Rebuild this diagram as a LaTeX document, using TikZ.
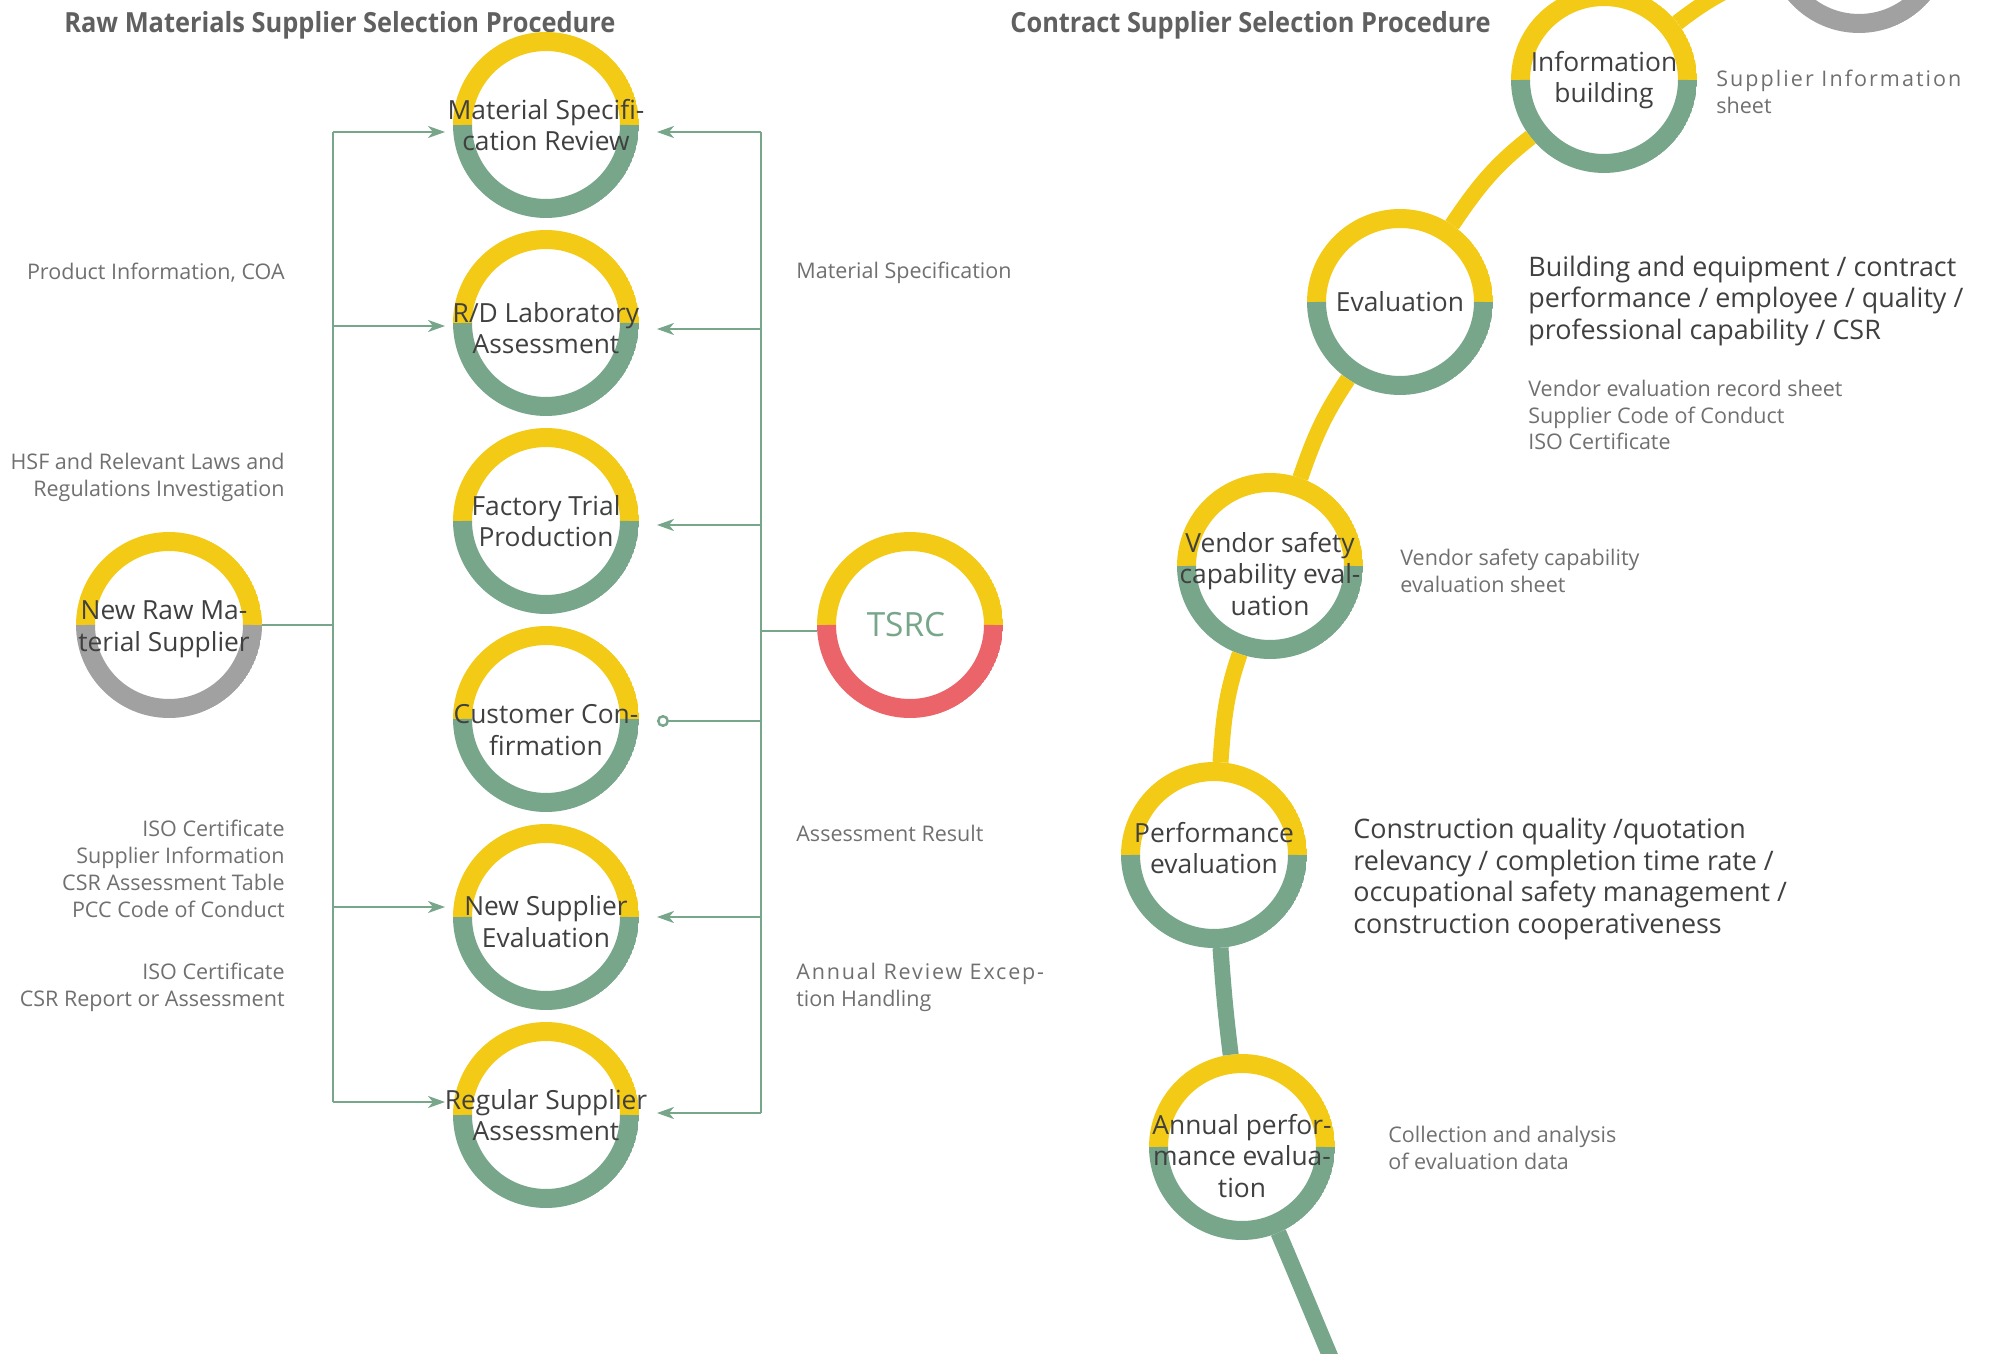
\documentclass[tikz,border=0pt]{standalone}
\usepackage{fontspec}
\setmainfont{Open Sans}
\usepackage{xcolor}
\usepackage{tikz}
\usetikzlibrary{positioning,arrows.meta}
\definecolor{ringyellow}{RGB}{243,202,21}
\definecolor{ringgreen}{RGB}{120,166,138}
\definecolor{ringgray}{RGB}{160,161,160}
\definecolor{ringred}{RGB}{235,100,106}
\definecolor{textdark}{RGB}{64,64,64}
\definecolor{textgray}{RGB}{112,112,112}
\definecolor{titlegray}{RGB}{96,96,96}

\begin{document}
\begin{tikzpicture}[x=0.02cm, y=0.02cm,
  ring/.style={line width=0.38cm},
  stage/.style={circle, minimum size=3.72cm, inner sep=0pt, outer sep=0pt, fill=white,
    path picture={
      \draw[ring, ringyellow] ([xshift=-1.67cm]path picture bounding box.center) arc[start angle=180, end angle=0, radius=1.67cm];
      \draw[ring, #1] ([xshift=1.67cm]path picture bounding box.center) arc[start angle=0, end angle=-180, radius=1.67cm];
    }},
  stage/.default=ringgreen,
  ringtext/.style={align=center, inner sep=0pt, text=textdark, font=\fontsize{15}{18}\selectfont},
  trail/.style={line width=0.32cm},
  link/.style={draw=ringgreen, line width=1.4pt},
  arrowlink/.style={link, -{Stealth[length=0.34cm, width=0.24cm, inset=0.1cm]}},
  note/.style={inner sep=0pt, text=textgray, font=\fontsize{12.25}{15.3}\selectfont},
  bignote/.style={inner sep=0pt, anchor=west, align=left, text=textdark, font=\fontsize{15.3}{18.1}\selectfont},
  heading/.style={inner sep=0pt, anchor=west, text=titlegray, font=\fontsize{15.8}{18}\selectfont\bfseries\addfontfeature{FakeStretch=0.915}}]

\useasboundingbox (0,0) rectangle (1997,-1354);
\clip (0,0) rectangle (1997,-1354);

% Titles
\node[heading] (rawtitle) at (64,-25) {Raw Materials Supplier Selection Procedure};
\node[heading] (contracttitle) at (1010,-25) {Contract Supplier Selection Procedure};

% Raw materials procedure
\node[stage=ringgray, label={[ringtext, xshift=-0.1cm, yshift=-0.08cm]center:{New Raw Ma-\\terial Supplier}}] (newraw) at (169,-625) {};
\node[stage, label={[ringtext]center:{Material Specifi-\\cation Review}}] (spec) at (546,-125) {};
\node[stage, label={[ringtext, yshift=-0.1cm]center:{R/D Laboratory\\Assessment}}] (lab) at (546,-323) {};
\node[stage, label={[ringtext]center:{Factory Trial\\Production}}] (trial) at (546,-521) {};
\node[stage, label={[ringtext, yshift=-0.22cm]center:{Customer Con-\\firmation}}] (confirm) at (546,-719) {};
\node[stage, label={[ringtext, yshift=-0.09cm]center:{New Supplier\\Evaluation}}] (newsup) at (546,-917) {};
\node[stage, label={[ringtext]center:{Regular Supplier\\Assessment}}] (regsup) at (546,-1115) {};
\node[stage=ringred, label={[ringtext, text=ringgreen, font=\fontsize{19}{22}\selectfont, xshift=-0.08cm]center:TSRC}] (tsrc) at (910,-625) {};

% Spines
\coordinate (ltop) at (333,-132);
\coordinate (lbot) at (333,-1102);
\coordinate (rtop) at (761,-132);
\coordinate (rbot) at (761,-1113);
\draw[link] (ltop) -- (lbot);
\draw[link] (rtop) -- (rbot);
\draw[link] (newraw) -- (newraw -| ltop);
\draw[link] ([yshift=-0.12cm]rtop |- tsrc.west) -- ([yshift=-0.12cm]tsrc.west);

% Arrows into the review steps
\foreach \n/\s in {spec/-0.14, lab/-0.06, newsup/0.2, regsup/0.26}
  \draw[arrowlink, shorten >=0.16cm] ([yshift=\s cm]ltop |- \n.west) -- ([yshift=\s cm]\n.west);
\foreach \n/\s in {spec/-0.14, lab/-0.12, trial/-0.08, newsup/0, regsup/0.04}
  \draw[arrowlink, shorten >=0.36cm] ([yshift=\s cm]rtop |- \n.east) -- ([yshift=\s cm]\n.east);
\draw[link, {Circle[open, length=0.24cm, fill=white]}-, shorten <=0.36cm] ([yshift=-0.04cm]confirm.east) -- ([yshift=-0.04cm]rtop |- confirm.east);

% Notes
\node[note, anchor=east, align=right] (prodinfo) at (285,-273) {Product Information, COA};
\node[note, anchor=east, align=right] (hsf) at (285,-477) {HSF and Relevant Laws and\\Regulations Investigation};
\node[note, anchor=east, align=right] (newdocs) at (285,-869) {ISO Certificate\\Supplier Information\\CSR Assessment Table\\PCC Code of Conduct};
\node[note, anchor=east, align=right] (regdocs) at (285,-987) {ISO Certificate\\CSR Report or Assessment};
\node[note, anchor=west, align=left] (specnote) at (796,-273) {Material Specification};
\node[note, anchor=west, align=left] (resultnote) at (796,-833) {Assessment Result};
\node[note, anchor=west, align=left] (reviewnote) at (796,-987) {{\addfontfeature{LetterSpace=8.5}Annual Review Excep-}\\tion Handling};

% Contract procedure
\node[stage=ringgray] (prev) at (1859,60) {};
\node[stage, label={[ringtext]center:{Information\\building}}] (info) at (1604,-80) {};
\node[stage, label={[ringtext]center:Evaluation}] (evalc) at (1400,-302) {};
\node[stage, label={[ringtext, yshift=-0.16cm]center:{Vendor safety\\capability eval-\\uation}}] (safety) at (1270,-566) {};
\node[stage, label={[ringtext, yshift=0.14cm]center:{Performance\\evaluation}}] (perf) at (1214,-855) {};
\node[stage, label={[ringtext, yshift=-0.18cm]center:{Annual perfor-\\mance evalua-\\tion}}] (annual) at (1242,-1147) {};
\coordinate (tail) at (1357,-1420);

\draw[trail, ringyellow] (prev) to[out=200, in=38] (info);
\draw[trail, ringyellow] (info) to[out=218, in=56] (evalc);
\draw[trail, ringyellow] (evalc) to[out=236, in=71] (safety);
\draw[trail, ringyellow] (safety) to[out=251, in=86] (perf);
\draw[trail, ringgreen] (perf) to[out=274, in=97] (annual);
\draw[trail, ringgreen] (annual) to[out=293, in=113] (tail);

% Contract notes
\node[note, anchor=west, align=left] (infonote) at (1716,-92) {{\addfontfeature{LetterSpace=9.5}Supplier Information}\\sheet};
\node[bignote] (evalnote) at (1528,-301) {Building and equipment / contract\\performance / employee / quality /\\professional capability / CSR};
\node[note, anchor=west, align=left] (evaldocs) at (1528,-415) {Vendor evaluation record sheet\\Supplier Code of Conduct\\ISO Certificate};
\node[note, anchor=west, align=left] (safetynote) at (1400,-571) {Vendor safety capability\\evaluation sheet};
\node[bignote] (perfnote) at (1353,-879) {Construction quality /quotation\\relevancy / completion time rate /\\occupational safety management /\\construction cooperativeness};
\node[note, anchor=west, align=left] (annualnote) at (1388,-1148) {Collection and analysis\\of evaluation data};
\end{tikzpicture}
\end{document}
